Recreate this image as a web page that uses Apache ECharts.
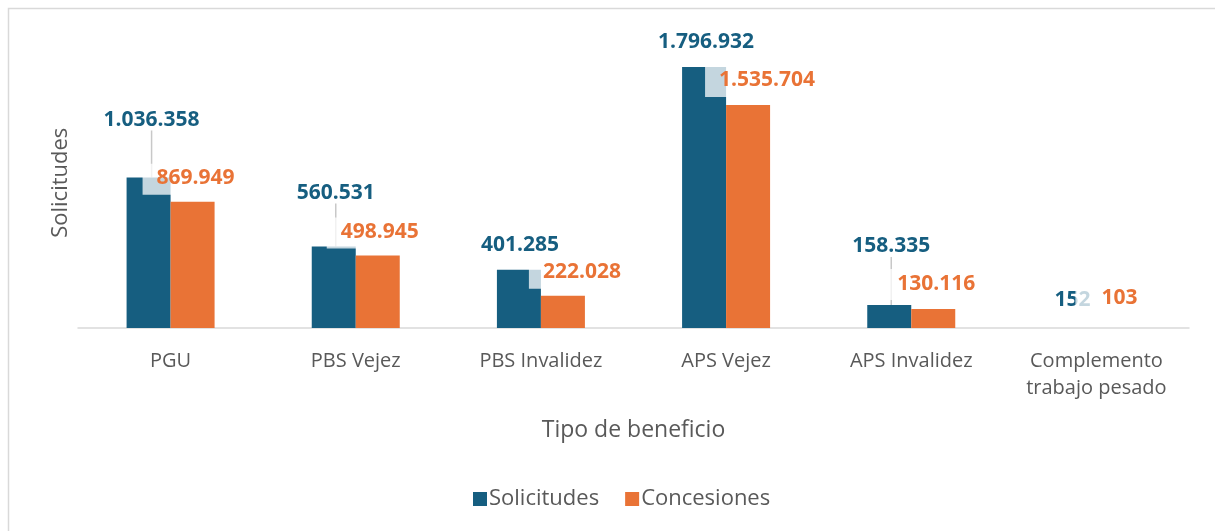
<!DOCTYPE html>
<html lang="es">
<head>
    <meta charset="UTF-8">
    <title>Solicitudes y concesiones por tipo de beneficio</title>
    <script src="https://cdn.jsdelivr.net/npm/echarts@6.0.0/dist/echarts.min.js"></script>
    <style>
        html, body { margin: 0; padding: 0; background: #fff; }
        #chart { width: 1215px; height: 531px; }
    </style>
</head>
<body>
    <div id="chart"></div>
    <script>
        var categories = ['PGU', 'PBS Vejez', 'PBS Invalidez', 'APS Vejez', 'APS Invalidez', 'Complemento\ntrabajo pesado'];
        var solicitudes = [1036358, 560531, 401285, 1796932, 158335, 152];
        var concesiones = [869949, 498945, 222028, 1535704, 130116, 103];

        // desplazamiento de etiquetas (movidas a mano como en el original)
        var shiftSol = [[3, -42], [2, -38], [1, -9], [2, -9], [2, -43], [-2, -12]];
        var shiftCon = [[3, -2], [2, -2], [19, -2], [19, -3], [3, -4], [-5, -8]];
        var withLine = [true, true, false, false, true, false];
        var padCon = [14, 14, 14, 14, 14, 26];

        var azul = '#165e80';
        var naranja = '#e97336';
        var gris = '#595959';
        var fuente = '"Open Sans", sans-serif';

        function fmt(v) {
            return String(v).replace(/\B(?=(\d{3})+(?!\d))/g, '.');
        }

        var chart = echarts.init(document.getElementById('chart'));
        chart.setOption({
            animation: false,
            textStyle: { fontFamily: fuente },
            graphic: [{
                type: 'rect',
                shape: { x: 8.5, y: 8.5, width: 1230, height: 560 },
                style: { fill: 'none', stroke: '#d9d9d9', lineWidth: 1.5 },
                silent: true
            }],
            grid: { left: 78, right: 26, top: 37.5, bottom: 203 },
            legend: {
                bottom: 16,
                left: 468,
                itemWidth: 14,
                itemHeight: 14,
                itemGap: 26,
                icon: 'rect',
                textStyle: { color: gris, fontSize: 22, fontFamily: fuente, padding: [0, 0, 0, -3] },
                data: ['Solicitudes', 'Concesiones']
            },
            xAxis: {
                type: 'category',
                data: categories,
                name: 'Tipo de beneficio',
                nameLocation: 'middle',
                nameGap: 91,
                nameTextStyle: { color: gris, fontSize: 23 },
                axisLine: { lineStyle: { color: '#d9d9d9', width: 1.5 } },
                axisTick: { show: false },
                axisLabel: { color: gris, fontSize: 20, margin: 20, lineHeight: 27, interval: 0 }
            },
            yAxis: {
                type: 'value',
                min: 0,
                max: 2000000,
                name: 'Solicitudes',
                nameLocation: 'middle',
                nameGap: 6,
                nameTextStyle: { color: gris, fontSize: 22 },
                axisLine: { show: false },
                axisTick: { show: false },
                axisLabel: { show: false },
                splitLine: { show: false }
            },
            series: [{
                name: 'Solicitudes',
                type: 'bar',
                barWidth: 44,
                barGap: '0%',
                itemStyle: { color: azul },
                data: solicitudes.map(function (v, i) {
                    return { value: v, labelLine: { show: withLine[i] } };
                }),
                label: {
                    show: true,
                    position: 'top',
                    color: azul,
                    fontSize: 21,
                    fontWeight: 'bold',
                    formatter: function (p) { return fmt(p.value); }
                },
                labelLine: { lineStyle: { color: '#c8c8c8', width: 1.5 } },
                labelLayout: function (p) {
                    var s = shiftSol[p.dataIndex];
                    return { dx: s[0], dy: s[1] };
                }
            }, {
                name: 'Concesiones',
                type: 'bar',
                barWidth: 44,
                barGap: '0%',
                itemStyle: { color: naranja },
                data: concesiones.map(function (v, i) {
                    return { value: v, label: { padding: [4, 14, 6, padCon[i]] } };
                }),
                label: {
                    show: true,
                    position: 'top',
                    color: naranja,
                    fontSize: 21,
                    fontWeight: 'bold',
                    backgroundColor: 'rgba(255,255,255,0.75)',
                    formatter: function (p) { return fmt(p.value); }
                },
                labelLayout: function (p) {
                    var s = shiftCon[p.dataIndex];
                    return { dx: s[0], dy: s[1] };
                }
            }]
        });
    </script>
</body>
</html>
